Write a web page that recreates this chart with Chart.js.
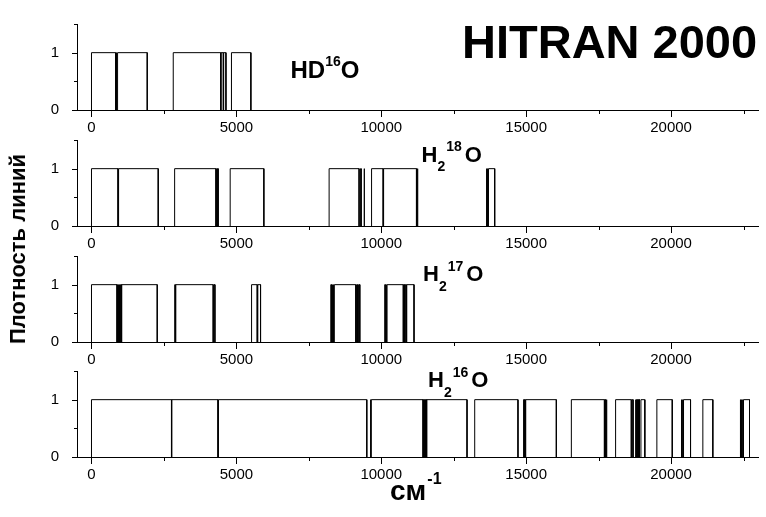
<!DOCTYPE html>
<html>
<head>
<meta charset="utf-8">
<script src="https://cdn.jsdelivr.net/npm/chart.js@4/dist/chart.umd.min.js"></script>
<style>
  html, body { margin: 0; padding: 0; background: #fff; }
  #wrap { position: relative; width: 766px; height: 517px; overflow: hidden;
          font-family: Arial, "Liberation Sans", sans-serif; color: #000; }
  canvas.panel { position: absolute; left: 0; }
  .t { position: absolute; font-weight: bold; white-space: nowrap; line-height: 1; }
  .t span { position: relative; }
  #ytitle { position: absolute; left: 18px; top: 249px; font-weight: bold; font-size: 22px;
            white-space: nowrap; line-height: 1; transform: translate(-50%, -50%) rotate(-90deg); }
</style>
</head>
<body>
<div id="wrap">
  <div class="t" style="left:462px; top:17.7px; font-size:47px;">HITRAN 2000</div>
  <div class="t" style="left:290.5px; top:58px; font-size:24px;">HD<span style="font-size:14px; top:-11.6px;">16</span>O</div>
  <div class="t" style="left:421.5px; top:143.7px; font-size:22px;">H<span style="font-size:14px; top:9.4px;">2</span><span style="font-size:14px; top:-10.3px; margin-left:1px;">18</span><span style="margin-left:3px;">O</span></div>
  <div class="t" style="left:423px; top:263.4px; font-size:22px;">H<span style="font-size:14px; top:9.4px;">2</span><span style="font-size:14px; top:-10.3px; margin-left:1px;">17</span><span style="margin-left:3px;">O</span></div>
  <div class="t" style="left:428px; top:369.4px; font-size:22px;">H<span style="font-size:14px; top:9.4px;">2</span><span style="font-size:14px; top:-10.3px; margin-left:1px;">16</span><span style="margin-left:3px;">O</span></div>
  <div id="ytitle">Плотность линий</div>
  <div class="t" style="left:390px; top:477px; font-size:28px;">см<span style="font-size:16px; top:-16px; margin-left:1px;">-1</span></div>
</div>
<script>
// Spectral intervals (cm-1) in which each isotopologue has lines (density = 1)
const hd16o = [[0, 834], [850, 875], [900, 1924], [2821, 4460], [4472, 4550], [4562, 4640], [4830, 5500]];
const h218o = [[0, 915], [935, 2303], [2869, 4295], [4312, 4330], [4348, 4372], [4786, 5948],
               [8200, 9234], [9290, 9305], [9405, 9420], [9665, 10065], [10080, 11214], [11235, 11265],
               [13628, 13640], [13660, 13675], [13700, 13914]];
const h217o = [[0, 880], [895, 910], [925, 940], [955, 970], [985, 1000], [1015, 1030], [1045, 2269],
               [2879, 2890], [2910, 4200], [4225, 4259], [5524, 5720], [5740, 5834],
               [8259, 8280], [8300, 8320], [8340, 8360], [8380, 9121], [9140, 9160], [9180, 9200], [9230, 9259],
               [10121, 10140], [10165, 10180], [10200, 10760], [10780, 10800], [10830, 10860], [10880, 11130]];
const h216o = [[0, 2760], [2775, 4365], [4380, 9500], [9625, 9640], [9655, 11440], [11460, 11480],
               [11500, 11520], [11540, 11560], [11575, 12959], [13224, 14717], [14914, 14930], [14950, 14965],
               [14985, 16041], [16559, 17700], [17720, 17740], [17760, 17786], [18086, 18628], [18660, 18690],
               [18770, 18790], [18810, 18830], [18850, 18870], [18890, 18910], [18960, 19095], [19510, 20041],
               [20352, 20370], [20390, 20410], [20430, 20672], [21097, 21441], [22386, 22400], [22420, 22440],
               [22460, 22480], [22500, 22707]];

const xRange = [-500, 23000];
const xTicks = [0, 2500, 5000, 7500, 10000, 12500, 15000, 17500, 20000, 22500];
const xLabelStep = 5000;
const yRange = [0, 1.5];
const yTicks = [0, 0.5, 1, 1.5];
const yLabels = [0, 1];

Chart.defaults.font.family = 'Arial, "Liberation Sans", sans-serif';
Chart.defaults.font.size = 15;
Chart.defaults.color = '#000';

// Each interval becomes its own rectangular step; a null point breaks the path between them
function stepPoints(intervals) {
  const pts = [];
  intervals.forEach(([a, b], i) => {
    if (i > 0) pts.push({ x: (intervals[i - 1][1] + a) / 2, y: null });
    pts.push({ x: a, y: 0 }, { x: a, y: 1 }, { x: b, y: 1 }, { x: b, y: 0 });
  });
  return pts;
}

// Outward tick marks: long at labelled values, short in between
const tickMarks = {
  id: 'tickMarks',
  afterDraw(chart) {
    const { ctx, scales: { x, y } } = chart;
    ctx.save();
    ctx.strokeStyle = '#000';
    ctx.lineWidth = 1;
    ctx.beginPath();
    x.ticks.forEach(t => {
      const px = Math.round(x.getPixelForValue(t.value)) + 0.5;
      const len = t.value % xLabelStep === 0 ? 7 : 4;
      ctx.moveTo(px, Math.round(x.top));
      ctx.lineTo(px, Math.round(x.top) + len);
    });
    y.ticks.forEach(t => {
      const py = Math.round(y.getPixelForValue(t.value)) + 0.5;
      const len = yLabels.includes(t.value) ? 5 : 3;
      ctx.moveTo(Math.round(y.right), py);
      ctx.lineTo(Math.round(y.right) - len, py);
    });
    ctx.stroke();
    ctx.restore();
  }
};

const panels = [
  { data: hd16o, areaTop: 24 },
  { data: h218o, areaTop: 140 },
  { data: h217o, areaTop: 256 },
  { data: h216o, areaTop: 371 }
];

const wrap = document.getElementById('wrap');
const PAD_TOP = 10, AREA_H = 86, XAXIS_H = 30;

panels.forEach(p => {
  const cv = document.createElement('canvas');
  cv.className = 'panel';
  cv.width = 766;
  cv.height = PAD_TOP + AREA_H + XAXIS_H;
  cv.style.top = (p.areaTop - PAD_TOP) + 'px';
  cv.style.width = '766px';
  cv.style.height = cv.height + 'px';
  wrap.insertBefore(cv, wrap.firstChild);

  new Chart(cv, {
    type: 'line',
    data: {
      datasets: [{
        data: stepPoints(p.data),
        borderColor: '#000',
        borderWidth: 1,
        pointRadius: 0,
        fill: false,
        tension: 0,
        spanGaps: false
      }]
    },
    options: {
      responsive: false,
      animation: false,
      events: [],
      devicePixelRatio: 1,
      layout: { padding: { top: PAD_TOP, left: 0, right: 8, bottom: 0 }, autoPadding: false },
      plugins: { legend: { display: false }, tooltip: { enabled: false } },
      scales: {
        x: {
          type: 'linear',
          min: xRange[0], max: xRange[1],
          grid: { display: false },
          border: { display: true, color: '#000', width: 1 },
          afterBuildTicks: s => { s.ticks = xTicks.map(v => ({ value: v })); },
          ticks: {
            autoSkip: false, maxRotation: 0, padding: 1,
            callback: v => (v % xLabelStep === 0 ? String(v) : '')
          },
          afterFit: s => { s.height = XAXIS_H; s.paddingLeft = 0; s.paddingRight = 0; }
        },
        y: {
          min: yRange[0], max: yRange[1],
          grid: { display: false },
          border: { display: true, color: '#000', width: 1 },
          afterBuildTicks: s => { s.ticks = yTicks.map(v => ({ value: v })); },
          ticks: {
            autoSkip: false, padding: 10,
            callback: v => (yLabels.includes(v) ? String(v) : '')
          },
          afterFit: s => { s.width = 77; s.paddingTop = 0; s.paddingBottom = 0; }
        }
      }
    },
    plugins: [tickMarks]
  });
});
</script>
</body>
</html>
